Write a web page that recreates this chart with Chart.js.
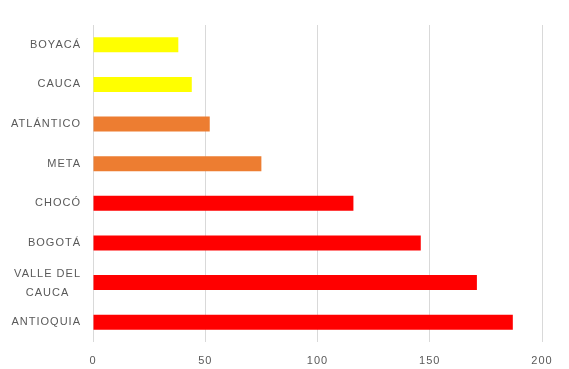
<!DOCTYPE html>
<html>
<head>
<meta charset="utf-8">
<script src="https://cdn.jsdelivr.net/npm/chart.js@4/dist/chart.umd.min.js"></script>
<style>
  html, body { margin: 0; padding: 0; background: #ffffff; }
  #wrap { width: 569px; height: 369px; position: relative; }
</style>
</head>
<body>
<div id="wrap"><canvas id="c" width="569" height="369"></canvas></div>
<script>
// Departments, top to bottom
const categories = ["BOYACÁ", "CAUCA", "ATLÁNTICO", "META", "CHOCÓ", "BOGOTÁ", ["VALLE DEL", "CAUCA"], "ANTIOQUIA"];
const values = [38, 44, 52, 75, 116, 146, 171, 187];
const barColors = ["#FFFF00", "#FFFF00", "#ED7D31", "#ED7D31", "#FF0000", "#FF0000", "#FF0000", "#FF0000"];
const xTicks = [0, 50, 100, 150, 200];

const LABEL_FONT = "11px 'Liberation Sans', Arial, sans-serif";
const LABEL_COLOR = "#595959";

// Slightly tracked text for all axis labels
const trackedText = {
  id: "trackedText",
  beforeDraw(chart) { chart.ctx.letterSpacing = "1px"; }
};

// Category labels: single lines right-aligned, wrapped labels centred as a block
const categoryLabels = {
  id: "categoryLabels",
  afterDraw(chart) {
    const ctx = chart.ctx;
    const yScale = chart.scales.y;
    const rightEdge = yScale.right - 12;
    const lineGap = 18.5;
    ctx.save();
    ctx.letterSpacing = "1px";
    ctx.font = LABEL_FONT;
    ctx.fillStyle = LABEL_COLOR;
    ctx.textBaseline = "middle";
    chart.data.labels.forEach((lab, i) => {
      const y = yScale.getPixelForValue(i);
      if (Array.isArray(lab)) {
        const w = Math.max(...lab.map(t => ctx.measureText(t).width));
        const cx = rightEdge - w / 2;
        ctx.textAlign = "center";
        const y0 = y + 1 - (lab.length - 1) * lineGap / 2;
        lab.forEach((t, k) => ctx.fillText(t, cx, y0 + k * lineGap));
      } else {
        ctx.textAlign = "right";
        ctx.fillText(lab, rightEdge, y);
      }
    });
    ctx.restore();
  }
};

new Chart(document.getElementById("c"), {
  type: "bar",
  data: {
    labels: categories,
    datasets: [{
      data: values,
      backgroundColor: barColors,
      borderWidth: 0,
      categoryPercentage: 1,
      barPercentage: 0.38
    }]
  },
  plugins: [trackedText, categoryLabels],
  options: {
    indexAxis: "y",
    responsive: false,
    animation: false,
    layout: { padding: { top: 25, right: 27, bottom: 0, left: 0 } },
    plugins: { legend: { display: false }, tooltip: { enabled: false } },
    scales: {
      x: {
        min: 0,
        max: 200,
        afterBuildTicks: (s) => { s.ticks = xTicks.map(v => ({ value: v })); },
        afterFit: (s) => { s.height = 27; },
        grid: { color: "#d9d9d9", drawTicks: false, lineWidth: 1 },
        border: { display: false },
        ticks: {
          color: LABEL_COLOR,
          font: { family: "Liberation Sans", size: 11 },
          padding: 12
        }
      },
      y: {
        afterFit: (s) => { s.width = 93; },
        grid: { display: false, drawTicks: false },
        border: { display: false },
        ticks: { display: false }
      }
    }
  }
});
</script>
</body>
</html>
